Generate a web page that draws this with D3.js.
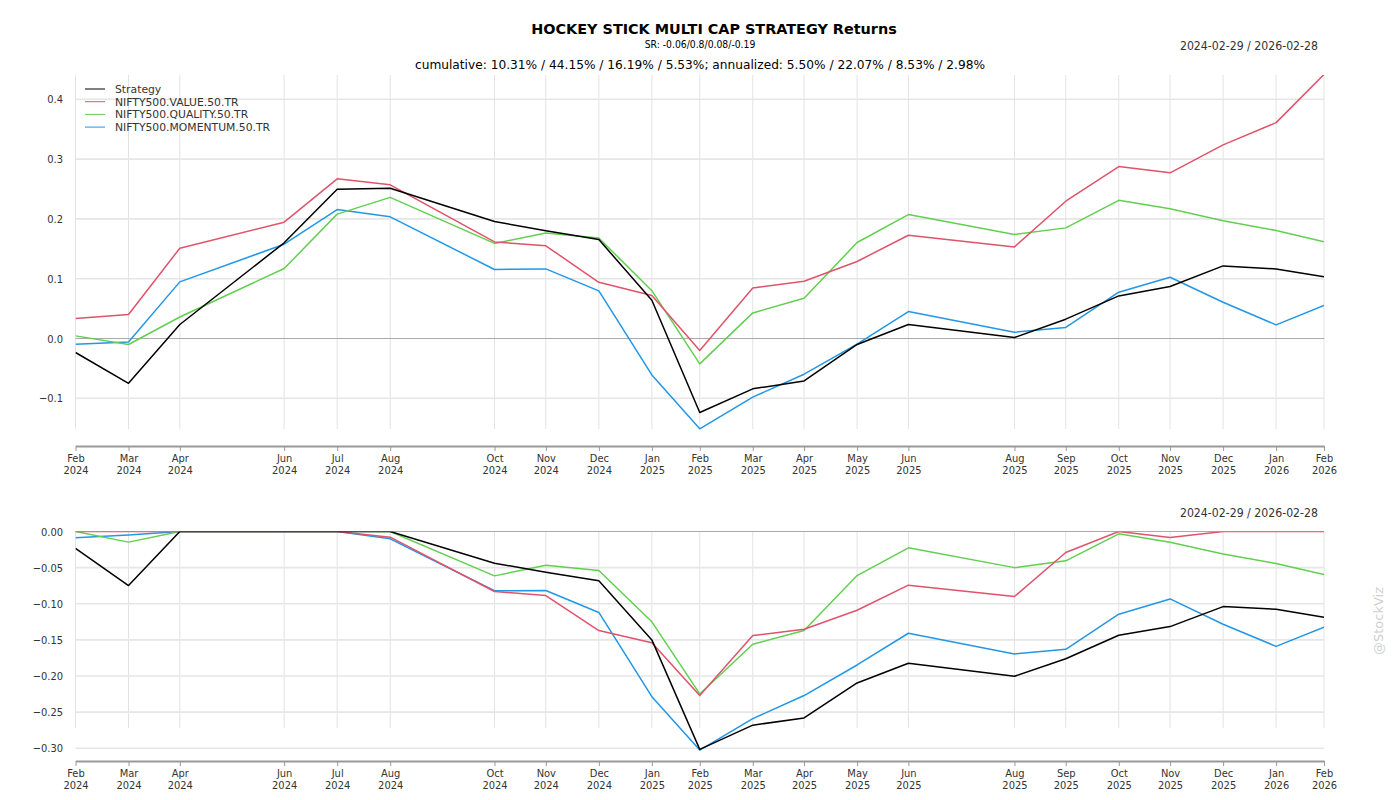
<!DOCTYPE html>
<html>
<head>
  <meta charset="utf-8">
  <title>Hockey stick returns</title>
  <script type="text/javascript" src="https://cdn.jsdelivr.net/npm/d3@7"></script>
  <style>
    body { margin: 0; background: #fff; }
    text { font-family: 'DejaVu Sans', sans-serif; fill: #333; }
    .tick text { font-family: 'DejaVu Sans Condensed', 'DejaVu Sans', sans-serif; font-size: 11px; fill: #333; }
    .xaxis path, .xaxis line { stroke: #999; }
    .xaxis path { stroke-width: 2; }
  </style>
</head>
<body>
<div id="chart"></div>

<script type="text/javascript">
// month-end dates of the series
var dates = ['2024-02-29','2024-03-31','2024-04-30','2024-06-30','2024-07-31','2024-08-31',
  '2024-10-31','2024-11-30','2024-12-31','2025-01-31','2025-02-28','2025-03-31','2025-04-30',
  '2025-05-31','2025-06-30','2025-08-31','2025-09-30','2025-10-31','2025-11-30','2025-12-31',
  '2026-01-31','2026-02-28'];

var seriesNames = ['Strategy','NIFTY500.VALUE.50.TR','NIFTY500.QUALITY.50.TR','NIFTY500.MOMENTUM.50.TR'];

// cumulative returns
var cumStrategy = [-0.0234,-0.075,0.0234,0.160,0.2497,0.2513,0.1957,0.180,0.1655,0.064,-0.1237,
  -0.0842,-0.0709,-0.010,0.0234,0.0017,0.0323,0.0712,0.087,0.1214,0.1164,0.1031];
var cumValue = [0.0334,0.040,0.151,0.1945,0.267,0.257,0.1615,0.155,0.094,0.072,-0.020,
  0.0846,0.0958,0.1288,0.1727,0.1532,0.2296,0.2876,0.277,0.3237,0.361,0.4415];
var cumQuality = [0.0044,-0.010,0.036,0.117,0.208,0.236,0.159,0.1766,0.168,0.080,-0.0425,
  0.0428,0.0674,0.1605,0.2073,0.1739,0.185,0.231,0.217,0.197,0.1806,0.1619];
var cumMomentum = [-0.0095,-0.0057,0.0947,0.1577,0.2157,0.2034,0.1154,0.1164,0.0796,-0.0609,-0.151,
  -0.098,-0.0597,-0.0095,0.045,0.0105,0.0184,0.0774,0.1025,0.0607,0.0227,0.0553];

// drawdowns
var ddStrategy = [-0.0235,-0.0748,0,0,0,0,-0.0439,-0.0563,-0.0683,-0.150,-0.3015,
  -0.268,-0.258,-0.2096,-0.1824,-0.2004,-0.176,-0.1436,-0.1316,-0.1039,-0.1076,-0.1187];
var ddValue = [0,0,0,0,0,-0.0078,-0.083,-0.0886,-0.137,-0.154,-0.2271,
  -0.144,-0.1353,-0.109,-0.0743,-0.090,-0.029,0,-0.0083,0,0,0];
var ddQuality = [0,-0.0147,0,0,0,0,-0.0614,-0.0466,-0.054,-0.125,-0.2248,
  -0.156,-0.137,-0.061,-0.0226,-0.050,-0.0406,-0.0032,-0.0148,-0.031,-0.0443,-0.0596];
var ddMomentum = [-0.0088,-0.005,0,0,0,-0.0101,-0.082,-0.0817,-0.112,-0.2285,-0.3024,
  -0.259,-0.227,-0.1847,-0.1408,-0.1694,-0.163,-0.1145,-0.0933,-0.1283,-0.159,-0.1325];

var topTicks = [-0.1,0,0.1,0.2,0.3,0.4];
var botTicks = [-0.30,-0.25,-0.20,-0.15,-0.10,-0.05,0];

var colors = ['#000000','#DF536B','#61D04F','#2297E6'];

var w = 1400, h = 800;
var parse = d3.timeParse('%Y-%m-%d');
var xDates = dates.map(parse);

var svg = d3.select('#chart').append('svg')
  .attr('width', w)
  .attr('height', h);

var x = d3.scaleTime()
  .domain([xDates[0], xDates[xDates.length - 1]])
  .range([75.5, 1324]);

var fmtM = d3.timeFormat('%b'), fmtY = d3.timeFormat('%Y');

// draws one panel: grid, lines, axes
function panel(id, y, ticks, tickFmt, series, top, gridBottom, axisY) {
  var g = svg.append('g').attr('id', id);

  g.append('clipPath').attr('id', 'clip-' + id)
    .append('rect')
    .attr('x', x.range()[0]).attr('y', top)
    .attr('width', x.range()[1] - x.range()[0])
    .attr('height', axisY - top);

  // vertical grid
  g.selectAll('.vgrid')
    .data(xDates)
    .enter()
    .append('line')
    .attr('x1', function(d){ return x(d); })
    .attr('x2', function(d){ return x(d); })
    .attr('y1', top)
    .attr('y2', gridBottom)
    .attr('stroke', '#e3e3e3')
    .attr('stroke-width', 1);

  // horizontal grid
  g.selectAll('.hgrid')
    .data(ticks)
    .enter()
    .append('line')
    .attr('x1', x.range()[0])
    .attr('x2', x.range()[1])
    .attr('y1', function(d){ return y(d); })
    .attr('y2', function(d){ return y(d); })
    .attr('stroke', function(d){ return d === 0 ? '#aaaaaa' : '#e6e6e6'; })
    .attr('stroke-width', function(d){ return d === 0 ? 1.2 : 1.6; });

  var line = d3.line()
    .x(function(d, i){ return x(xDates[i]); })
    .y(function(d){ return y(d); });

  // strategy drawn last, on top
  var order = [3, 2, 1, 0];
  g.append('g').attr('clip-path', 'url(#clip-' + id + ')')
    .selectAll('path')
    .data(order)
    .enter()
    .append('path')
    .attr('d', function(k){ return line(series[k]); })
    .attr('fill', 'none')
    .attr('stroke', function(k){ return colors[k]; })
    .attr('stroke-width', 1.5)
    .attr('stroke-linejoin', 'round');

  // y labels
  var ya = g.append('g')
    .attr('transform', 'translate(66,0)')
    .call(d3.axisLeft(y).tickValues(ticks).tickSize(0).tickPadding(3).tickFormat(tickFmt));
  ya.select('.domain').remove();

  // x axis, two line labels
  var xa = g.append('g')
    .attr('class', 'xaxis')
    .attr('transform', 'translate(0,' + axisY + ')')
    .call(d3.axisBottom(x).tickValues(xDates).tickSize(5).tickSizeOuter(0).tickPadding(3));
  xa.selectAll('.tick text').each(function(d){
    var t = d3.select(this);
    t.text(null);
    t.append('tspan').attr('x', 0).attr('dy', '0.71em').text(fmtM(d));
    t.append('tspan').attr('x', 0).attr('dy', '1.1em').text(fmtY(d));
  });
}

var yTop = d3.scaleLinear().domain([-0.1, 0.4]).range([398.3, 99.3]);
var yBot = d3.scaleLinear().domain([-0.3, 0]).range([748.3, 531.5]);

panel('top', yTop, topTicks, d3.format('.1f'),
  [cumStrategy, cumValue, cumQuality, cumMomentum], 75, 429, 446);
panel('bot', yBot, botTicks, d3.format('.2f'),
  [ddStrategy, ddValue, ddQuality, ddMomentum], 531.5, 728, 761);

// titles
svg.append('text')
  .attr('x', 714).attr('y', 34)
  .attr('text-anchor', 'middle')
  .style('font-size', '14.4px').style('font-weight', 'bold').style('fill', '#000')
  .text('HOCKEY STICK MULTI CAP STRATEGY Returns');
svg.append('text')
  .attr('x', 700).attr('y', 48)
  .attr('text-anchor', 'middle')
  .style('font-family', "'DejaVu Sans Condensed', 'DejaVu Sans'")
  .style('font-size', '10.3px').style('fill', '#000')
  .text('SR: -0.06/0.8/0.08/-0.19');
svg.append('text')
  .attr('x', 700).attr('y', 69)
  .attr('text-anchor', 'middle')
  .style('font-size', '12.2px').style('fill', '#000')
  .text('cumulative: 10.31% / 44.15% / 16.19% / 5.53%; annualized: 5.50% / 22.07% / 8.53% / 2.98%');

svg.selectAll('.range')
  .data([50, 517])
  .enter()
  .append('text')
  .attr('x', 1318).attr('y', function(d){ return d; })
  .attr('text-anchor', 'end')
  .style('font-family', "'DejaVu Sans Condensed', 'DejaVu Sans'")
  .style('font-size', '12.2px')
  .text('2024-02-29 / 2026-02-28');

// legend
var leg = svg.append('g').attr('transform', 'translate(85,89)');
leg.selectAll('line')
  .data(seriesNames)
  .enter()
  .append('line')
  .attr('x1', 0).attr('x2', 20)
  .attr('y1', function(d, i){ return i * 12.7; })
  .attr('y2', function(d, i){ return i * 12.7; })
  .attr('stroke', function(d, i){ return colors[i]; })
  .attr('stroke-width', 1);
leg.selectAll('text')
  .data(seriesNames)
  .enter()
  .append('text')
  .attr('x', 30)
  .attr('y', function(d, i){ return i * 12.7 + 4; })
  .style('font-size', '10.8px')
  .text(function(d){ return d; });

// watermark
svg.append('text')
  .attr('transform', 'translate(1383,621) rotate(-90)')
  .attr('text-anchor', 'middle')
  .style('font-size', '13px').style('fill', '#d0d0d0')
  .text('@StockViz');
</script>

</body>
</html>
